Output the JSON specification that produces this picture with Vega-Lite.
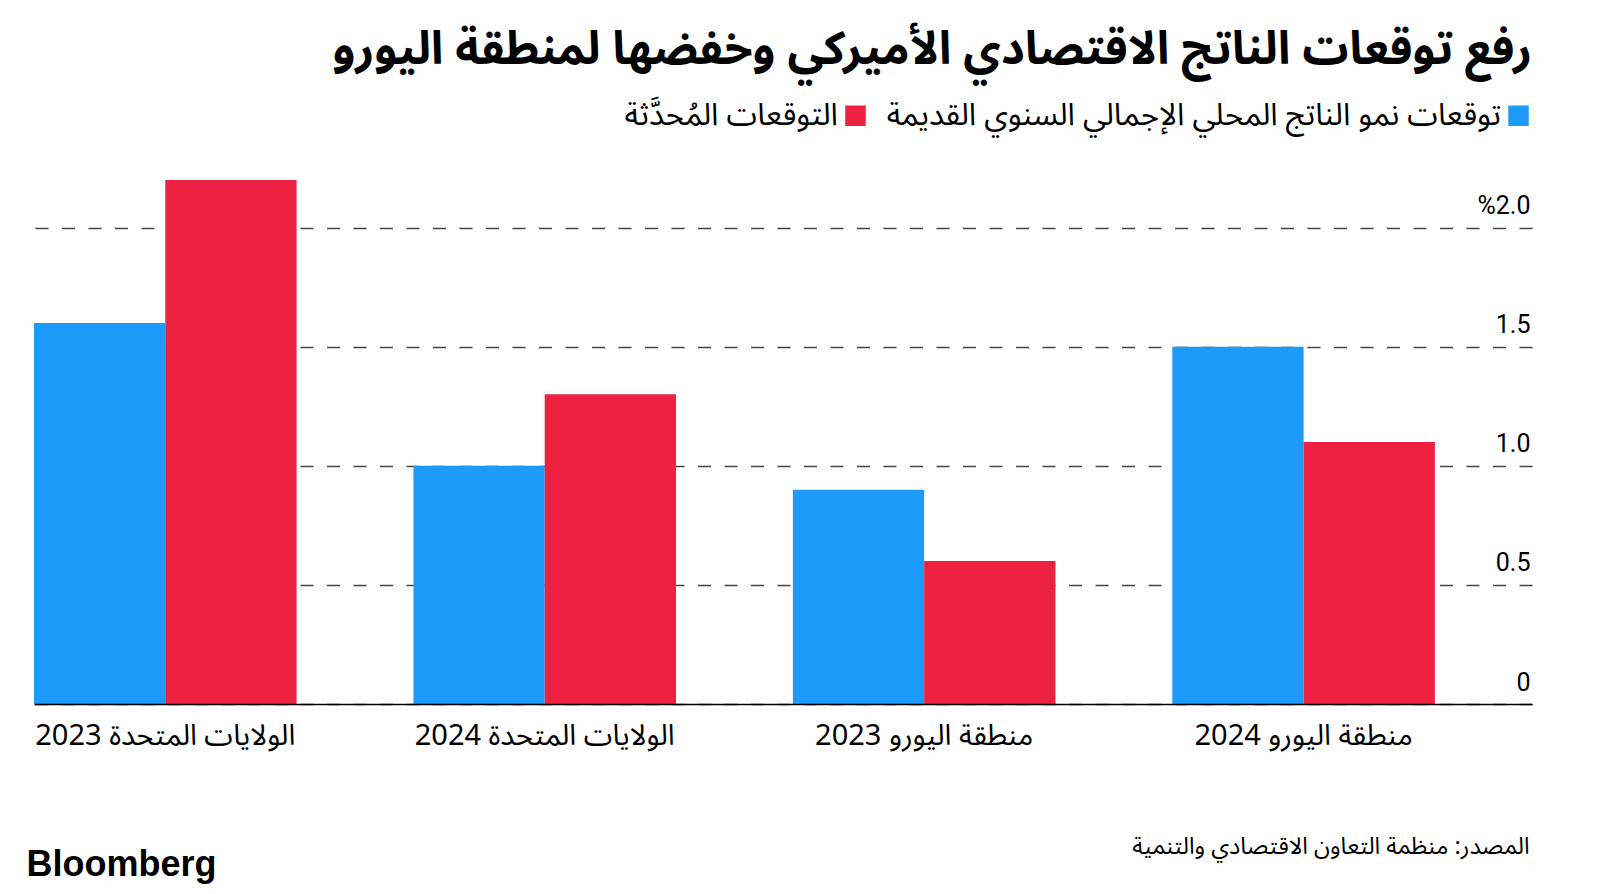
{
  "$schema": "https://vega.github.io/schema/vega-lite/v6.json",
  "autosize": {"type": "none"},
  "padding": {"left": 34, "top": 180, "right": 68, "bottom": 190},
  "width": 1498,
  "height": 524,
  "background": "#ffffff",
  "config": {"view": {"stroke": null}},
  "title": {
    "text": "رفع توقعات الناتج الاقتصادي الأميركي وخفضها لمنطقة اليورو",
    "anchor": "end",
    "frame": "group",
    "orient": "top",
    "baseline": "alphabetic",
    "offset": -10,
    "font": "Noto Sans Arabic, DejaVu Sans",
    "fontSize": 46,
    "fontWeight": "bold",
    "color": "#000000"
  },
  "data": {
    "values": [
      {"category": "الولايات المتحدة 2023", "series": "توقعات نمو الناتج المحلي الإجمالي السنوي القديمة", "value": 1.6},
      {"category": "الولايات المتحدة 2023", "series": "التوقعات المُحدَّثة", "value": 2.2},
      {"category": "الولايات المتحدة 2024", "series": "توقعات نمو الناتج المحلي الإجمالي السنوي القديمة", "value": 1.0},
      {"category": "الولايات المتحدة 2024", "series": "التوقعات المُحدَّثة", "value": 1.3},
      {"category": "منطقة اليورو 2023", "series": "توقعات نمو الناتج المحلي الإجمالي السنوي القديمة", "value": 0.9},
      {"category": "منطقة اليورو 2023", "series": "التوقعات المُحدَّثة", "value": 0.6},
      {"category": "منطقة اليورو 2024", "series": "توقعات نمو الناتج المحلي الإجمالي السنوي القديمة", "value": 1.5},
      {"category": "منطقة اليورو 2024", "series": "التوقعات المُحدَّثة", "value": 1.1}
    ]
  },
  "mark": {"type": "bar"},
  "encoding": {
    "x": {
      "field": "category",
      "type": "nominal",
      "sort": ["الولايات المتحدة 2023", "الولايات المتحدة 2024", "منطقة اليورو 2023", "منطقة اليورو 2024"],
      "scale": {"paddingInner": 0.308, "paddingOuter": 0.128, "align": 0},
      "axis": {
        "title": "المصدر: منظمة التعاون الاقتصادي والتنمية",
        "titleAnchor": "end",
        "titleAlign": "right",
        "titleBaseline": "alphabetic",
        "titleX": 1495,
        "titleY": 149,
        "titleFont": "Noto Sans Arabic, DejaVu Sans",
        "titleFontSize": 23.5,
        "titleFontWeight": "normal",
        "titleColor": "#000000",
        "labelAngle": 0,
        "labelLimit": 0,
        "labelFont": "Noto Sans Arabic, Roboto, DejaVu Sans",
        "labelFontSize": 29,
        "labelColor": "#000000",
        "labelBaseline": "alphabetic",
        "labelPadding": 40,
        "ticks": false,
        "tickSize": 0,
        "domainColor": "#000000",
        "domainWidth": 1.5,
        "zindex": 1
      }
    },
    "xOffset": {
      "field": "series",
      "type": "nominal",
      "sort": ["توقعات نمو الناتج المحلي الإجمالي السنوي القديمة", "التوقعات المُحدَّثة"],
      "scale": {"paddingInner": 0, "paddingOuter": 0}
    },
    "y": {
      "field": "value",
      "type": "quantitative",
      "scale": {"domain": [0, 2.2], "nice": false, "zero": true},
      "axis": {
        "orient": "right",
        "values": [0, 0.5, 1, 1.5, 2],
        "labelExpr": "datum.value == 2 ? '%2.0' : (datum.value == 0 ? '0' : format(datum.value, '.1f'))",
        "labelAlign": "right",
        "labelBaseline": "alphabetic",
        "labelPadding": -2,
        "labelOffset": -14,
        "labelFont": "Roboto",
        "labelFontSize": 25,
        "labelColor": "#000000",
        "ticks": false,
        "tickSize": 0,
        "domain": false,
        "grid": true,
        "gridColor": "#444444",
        "gridWidth": 1.5,
        "gridDash": [13, 13.5],
        "title": "Bloomberg",
        "titleAngle": 0,
        "titleAlign": "left",
        "titleBaseline": "alphabetic",
        "titleX": -1506,
        "titleY": 695,
        "titleFont": "Liberation Sans",
        "titleFontSize": 36,
        "titleFontWeight": "bold",
        "titleColor": "#000000"
      }
    },
    "color": {
      "field": "series",
      "type": "nominal",
      "scale": {
        "domain": ["التوقعات المُحدَّثة", "توقعات نمو الناتج المحلي الإجمالي السنوي القديمة"],
        "range": ["#EC2240", "#1D9BFA"]
      },
      "legend": {
        "title": null,
        "orient": "none",
        "direction": "horizontal",
        "legendX": 806,
        "legendY": -80,
        "symbolType": "square",
        "symbolSize": 420,
        "symbolStrokeWidth": 0,
        "labelAlign": "right",
        "labelOffset": -33,
        "labelFont": "Noto Sans Arabic, DejaVu Sans",
        "labelFontSize": 31,
        "labelColor": "#000000",
        "labelLimit": 0,
        "columnPadding": 20
      }
    }
  }
}
